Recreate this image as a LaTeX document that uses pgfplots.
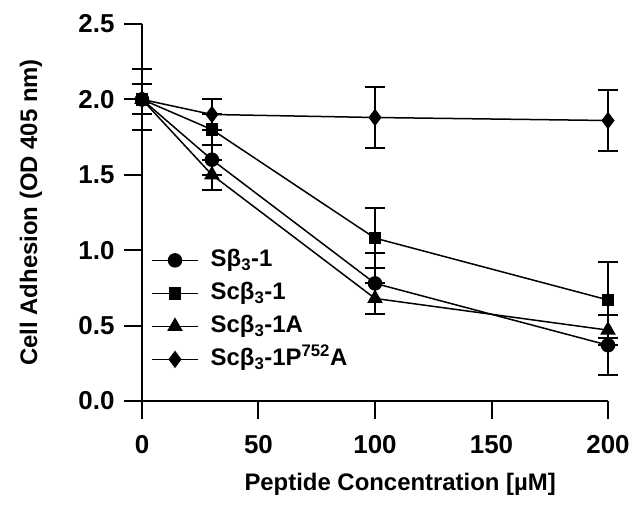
\documentclass[border=0pt]{standalone}
\usepackage{fontspec}
\setmainfont{Liberation Sans}
\usepackage{pgfplots}
\pgfplotsset{compat=1.18}
\pgfplotstableread{
x y e
0 2.0 0.2
30 1.6 0.1
100 0.78 0.2
200 0.37 0.2
}\circdata
\pgfplotstableread{
x y e
0 2.0 0.2
30 1.8 0.1
100 1.08 0.2
200 0.67 0.25
}\sqdata
\pgfplotstableread{
x y e
0 2.0 0.1
30 1.5 0.1
100 0.68 0.1
200 0.47 0.1
}\tridata
\pgfplotstableread{
x y e
0 2.0 0.1
30 1.9 0.1
100 1.88 0.2
200 1.86 0.2
}\diadata
\begin{document}
\begin{tikzpicture}
\begin{axis}[
  scale only axis, width=466bp, height=377bp,
  xmin=0, xmax=200, ymin=0, ymax=2.5,
  clip=false,
  axis lines*=left,
  axis line style={line width=2bp},
  xtick={0,50,100,150,200}, ytick={0,0.5,1,1.5,2,2.5},
  tick align=outside,
  major tick length=18bp,
  tick style={line width=2bp, black},
  /pgf/number format/assume math mode=true,
  tick label style={font=\fontsize{26}{26}\selectfont\bfseries},
  xticklabel style={yshift=-13bp},
  yticklabel style={xshift=-6bp, /pgf/number format/.cd, fixed, fixed zerofill, precision=1},
  xlabel={Peptide Concentration [µM]},
  ylabel={Cell Adhesion (OD 405 nm)},
  label style={font=\fontsize{24}{24}\selectfont\bfseries, inner sep=0pt},
  xlabel style={at={(axis description cs:0.554,-0.2387)}, anchor=base},
  ylabel style={at={(axis description cs:-0.2253,0.5)}, anchor=base},
  error bars/y dir=both, error bars/y explicit,
  error bars/error bar style={line width=2bp, black, solid},
  error bars/error mark options={rotate=90, mark size=10bp, line width=2bp, black},
  legend image code/.code={\draw[mark repeat=2,mark phase=2] plot coordinates {(0bp,0bp) (23bp,0bp) (46bp,0bp)};},
  legend cell align=left,
  legend style={at={(axis description cs:0.013,0.408)}, anchor=north west, draw=none, fill=none,
    font=\fontsize{24}{24}\selectfont\bfseries,
    nodes={inner sep=0pt, text height=17bp, text depth=5bp},
    row sep=11bp,
    /tikz/every odd column/.append style={column sep=12bp}},
]
\addplot[black, solid, line width=1.5bp, mark=*, mark size=6.5bp, mark options={fill=black, solid}] table[x=x, y=y, y error=e] {\circdata};
\addlegendentry{Sβ\textsubscript{3}-1}
\addplot[black, solid, line width=1.5bp, mark=square*, mark size=5.5bp, mark options={fill=black, solid}] table[x=x, y=y, y error=e] {\sqdata};
\addlegendentry{Scβ\textsubscript{3}-1}
\addplot[black, solid, line width=1.5bp, mark=triangle*, mark size=7.5bp, mark options={fill=black, solid}] table[x=x, y=y, y error=e] {\tridata};
\addlegendentry{Scβ\textsubscript{3}-1A}
\addplot[black, solid, line width=1.5bp, mark=diamond*, mark size=7.5bp, mark options={fill=black, solid}] table[x=x, y=y, y error=e] {\diadata};
\addlegendentry{Scβ\textsubscript{3}-1P\textsuperscript{752}A}
\path (rel axis cs:0,0) coordinate (ll) (rel axis cs:1,1) coordinate (ur);
\end{axis}
\pgfresetboundingbox
\useasboundingbox ([shift={(-142bp,-107bp)}]ll) rectangle ([shift={(24bp,24bp)}]ur);
\end{tikzpicture}
\end{document}
